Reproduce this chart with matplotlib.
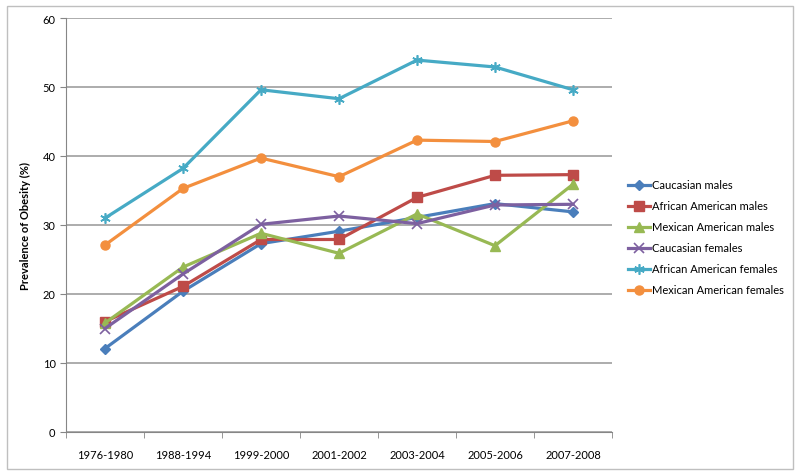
import matplotlib
matplotlib.use("Agg")
import matplotlib.pyplot as plt
from matplotlib.patches import Rectangle

periods = ["1976-1980", "1988-1994", "1999-2000", "2001-2002", "2003-2004", "2005-2006", "2007-2008"]
caucasian_males = [12.1, 20.4, 27.3, 29.1, 31.1, 33.1, 31.9]
african_american_males = [16.0, 21.1, 27.9, 27.9, 34.0, 37.2, 37.3]
mexican_american_males = [15.8, 23.9, 28.8, 25.9, 31.6, 27.0, 35.9]
caucasian_females = [15.0, 22.9, 30.1, 31.3, 30.2, 32.9, 33.0]
african_american_females = [31.0, 38.2, 49.6, 48.3, 53.9, 52.9, 49.6]
mexican_american_females = [27.1, 35.3, 39.7, 37.0, 42.3, 42.1, 45.1]
y_ticks = [0, 10, 20, 30, 40, 50, 60]

series = [
    ("Caucasian males", caucasian_males, "#4A7EBB", "D", 5),
    ("African American males", african_american_males, "#BE4B48", "s", 6.5),
    ("Mexican American males", mexican_american_males, "#98B954", "^", 6.5),
    ("Caucasian females", caucasian_females, "#7D60A0", "x", 6.5),
    ("African American females", african_american_females, "#46AAC5", (6, 2, 0), 7.5),
    ("Mexican American females", mexican_american_females, "#F38F3E", "o", 6.5),
]

plt.rcParams['font.family'] = ['Lato', 'DejaVu Sans']

fig = plt.figure(figsize=(8, 4.77), dpi=100)
ax = fig.add_axes([66/800, 44/477, (612-66)/800, (433-19)/477])

x = list(range(len(periods)))
for name, vals, color, marker, ms in series:
    ax.plot(x, vals, color=color, lw=2.3, marker=marker, markersize=ms,
            markeredgewidth=1.2 if marker in ("x", (6, 2, 0)) else 1,
            markerfacecolor=color, markeredgecolor=color, label=name, zorder=3)

ax.set_xlim(-0.5, len(periods) - 0.5)
ax.set_ylim(0, 60)
ax.set_yticks(y_ticks)
ax.set_xticks(x)
ax.set_xticklabels(periods, fontsize=8)
ax.set_xticks([i - 0.5 for i in range(len(periods) + 1)], minor=True)
ax.tick_params(axis='x', which='major', length=0, pad=12)
ax.tick_params(axis='x', which='minor', length=4, color='#868686', direction='out')
ax.tick_params(axis='y', length=4, color='#868686', labelsize=8, direction='out')
ax.grid(axis='y', color='#A6A6A6', lw=1.3, zorder=0)
ax.set_axisbelow(True)
for s in ['top', 'right']:
    ax.spines[s].set_visible(False)
for s in ['left', 'bottom']:
    ax.spines[s].set_color('#868686')
ax.set_ylabel("Prevalence of Obesity (%)", fontsize=8, fontweight='bold', labelpad=8)

leg = ax.legend(loc='center left', bbox_to_anchor=(1.0, 0.47), frameon=False,
                fontsize=8, handlelength=2.0, labelspacing=0.9, handletextpad=0.2,
                borderaxespad=1.0)

fig.patches.append(Rectangle((7/800, 7/477), 786/800, 463/477, transform=fig.transFigure,
                             fill=False, edgecolor='#BFBFBF', lw=1))

fig.savefig("out.png", dpi=100)
